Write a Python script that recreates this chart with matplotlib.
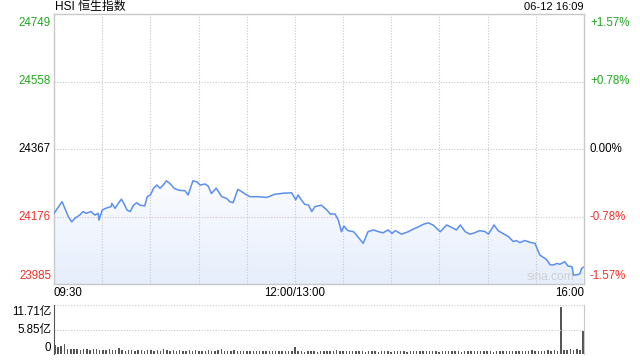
import numpy as np
import matplotlib
matplotlib.use('Agg')
import matplotlib.pyplot as plt
from matplotlib import transforms

plt.rcParams['font.family'] = ['Liberation Sans', 'Noto Sans CJK SC', 'DejaVu Sans']

# Dados (minutos de negociação desde 09:30, 0..330)
prev_close = 24367
y_ticks = [24749, 24558, 24367, 24176, 23985]
pct_ticks = ['+1.57%', '+0.78%', '0.00%', '-0.78%', '-1.57%']
time_ticks = [0, 150, 330]
time_labels = ['09:30', '12:00/13:00', '16:00']

t_min = [0, 5, 9, 11, 13, 16, 18, 20, 23, 25.5, 27.5, 28, 30, 32, 35.5, 36, 38, 40, 42, 43.5,
         45.5, 47.5, 49.5, 51.5, 53.5, 56.5, 58, 60, 61, 62, 64, 66, 68, 70, 72, 75,
         78, 81.5, 83.5, 86.5, 89, 91, 94, 96, 98, 101, 104.5, 107.5, 109.5, 111.5, 114.5,
         119, 122, 127, 132.5, 137.5, 143, 148, 150.5, 152, 154, 156, 158.5, 160.5, 162.5,
         166.5, 170, 172, 175, 177, 179, 180.5, 183, 186.5, 189.5, 192.5, 195.5, 199, 202,
         205, 208, 210.5, 212.5, 216.5, 220.5, 223.5, 227, 230, 233, 236, 240.5, 244.5,
         248.5, 250.5, 253, 256, 259, 262, 265, 268.5, 270.5, 274, 276.5, 279.5, 283, 286,
         288, 290, 293, 296.5, 299.5, 301, 302.5, 304.5, 306.5, 309, 311, 313, 315, 318,
         320, 322.5, 323.5, 326.5, 327.5, 328.5, 329.5]
price = [24185, 24218, 24175, 24161, 24171, 24180, 24190, 24185, 24190, 24180, 24185, 24166,
         24194, 24199, 24204, 24213, 24199, 24213, 24225, 24213, 24194, 24190, 24208, 24215,
         24208, 24206, 24232, 24237, 24246, 24256, 24265, 24256, 24265, 24277, 24270, 24255,
         24250, 24249, 24237, 24277, 24274, 24265, 24268, 24262, 24241, 24256, 24232, 24227,
         24218, 24215, 24253, 24240, 24232, 24232, 24230, 24239, 24242, 24243, 24223, 24237,
         24223, 24211, 24208, 24190, 24204, 24208, 24194, 24183, 24183, 24166, 24133, 24149,
         24136, 24133, 24117, 24100, 24133, 24138, 24133, 24130, 24138, 24128, 24136, 24126,
         24133, 24140, 24147, 24154, 24158, 24152, 24133, 24152, 24143, 24138, 24152, 24133,
         24126, 24130, 24136, 24133, 24126, 24152, 24136, 24128, 24119, 24105, 24108, 24102,
         24108, 24103, 24100, 24083, 24067, 24061, 24055, 24039, 24039, 24043, 24041, 24048,
         24036, 24034, 24010, 24012, 24015, 24029, 24032]

vol_max = 11.71
vol_ticks = [11.71, 5.85, 0]
vol_labels = ['11.71亿', '5.85亿', '0']
vol_t = list(range(0, 331, 2))
vol = [2.2, 1.6, 1.9, 2.4, 1.3, 1.2, 1.1, 1.2, 1.0, 1.1, 1.2, 1.0, 1.1, 1.3, 1.0, 0.9,
       1.0, 1.1, 1.0, 0.9, 1.4, 0.9, 0.8, 1.0, 0.9, 0.8, 1.0, 0.9, 0.8, 0.9, 1.0, 0.8,
       0.9, 0.8, 1.1, 0.9, 0.8, 0.9, 0.8, 1.0, 0.8, 0.7, 0.9, 0.8, 1.0, 0.8, 0.7, 0.8,
       0.9, 0.7, 0.8, 0.9, 1.2, 0.8, 0.7, 0.8, 0.9, 0.7, 0.8, 0.7, 0.8, 0.7, 0.6, 0.7,
       0.8, 0.6, 0.7, 0.6, 0.7, 0.6, 0.6, 0.7, 0.6, 0.6, 0.7, 1.7,
       0.6, 0.7, 0.5, 0.6, 0.7, 0.6, 0.5, 0.7, 0.6, 0.8, 0.6, 0.7, 0.9, 0.6, 0.7, 0.6,
       0.8, 0.7, 0.6, 0.7, 0.6, 0.5, 0.6, 0.7, 0.6, 0.5, 0.6, 0.7, 0.6, 0.5, 0.6, 0.6,
       0.7, 0.6, 0.5, 0.6, 0.7, 0.6, 0.6, 0.7, 0.8, 0.6, 0.7, 0.6, 0.5, 0.6, 0.7, 0.6,
       0.6, 0.7, 0.6, 0.5, 0.6, 0.7, 0.6, 0.7, 0.8, 0.6, 0.6, 0.7, 0.6, 0.5, 0.6, 0.7,
       0.6, 0.7, 0.8, 0.7, 0.6, 0.7, 0.6, 0.7, 0.8, 0.9, 0.7, 0.8, 0.7, 0.8, 0.9, 0.8,
       0.9, 0.8, 11.3, 0.9, 1.0, 1.2, 0.9, 1.3, 1.0, 5.5]

green = '#21a621'
red = '#f0302a'
grid_c = '#c8c8c8'
line_c = '#5a8ff0'

W, H = 640, 360
fig = plt.figure(figsize=(W / 100, H / 100), dpi=100)

def box(l, t, r, b):
    return [l / W, 1 - b / H, (r - l) / W, (b - t) / H]

# *** Gráfico principal ***
ax = fig.add_axes(box(54, 14, 584, 284))
ax.set_xlim(0, 330)
ax.set_ylim(y_ticks[-1], y_ticks[0])
for s in ax.spines.values():
    s.set_color(grid_c)
    s.set_linewidth(1)
ax.set_xticks([])
ax.set_yticks([])

for v in range(30, 330, 30):
    ax.axvline(v, color=grid_c, lw=0.8, ls=(0, (1, 1.5)), zorder=1)
for v in y_ticks[1:-1]:
    ax.axhline(v, color=grid_c, lw=0.8, ls=(0, (1, 1.5)), zorder=1)

# preenchimento em gradiente abaixo da linha
grad = np.linspace(1, 0, 256).reshape(-1, 1)
cmap = matplotlib.colors.LinearSegmentedColormap.from_list('g', ['#fbfcff', '#e6eefc'])
im = ax.imshow(grad, extent=[0, 330, y_ticks[-1], max(price)], aspect='auto',
               cmap=cmap, origin='lower', zorder=0)
poly = ax.fill_between(t_min, price, y_ticks[-1], color='none')
im.set_clip_path(poly.get_paths()[0], transform=ax.transData)
ax.plot(t_min, price, color=line_c, lw=1.1, zorder=3)

ax.text(0.982, 0.004, 'sina.com', transform=ax.transAxes, ha='right', va='bottom',
        fontsize=8.6, color='#d0d0d0', zorder=2)

# rótulos dos eixos
tl = transforms.blended_transform_factory(fig.transFigure, ax.transData)
cols = [green, green, 'black', red, red]
vas = ['top', 'center', 'center', 'center', 'bottom']
for v, p, c, va in zip(y_ticks, pct_ticks, cols, vas):
    off = -3 if va == 'top' else (2 if va == 'bottom' else 0)
    yy = v + off * (y_ticks[0] - y_ticks[-1]) / 270
    fig.text(51 / W, yy, str(v), transform=tl, ha='right', va=va,
             color=c, fontsize=8.3)
    fig.text(590 / W, yy, p, transform=tl, ha='left', va=va,
             color=c, fontsize=8.3)

for t, lab, ha in zip(time_ticks, time_labels, ['left', 'center', 'right']):
    fig.text((54 + t * 530 / 330) / W, 1 - 293 / H, lab, ha=ha, va='center', fontsize=8.3)

fig.text(55 / W, 1 - 7 / H, 'HSI 恒生指数', ha='left', va='center', fontsize=8.6)
fig.text(584 / W, 1 - 7 / H, '06-12 16:09', ha='right', va='center', fontsize=8)

# *** Volume ***
axv = fig.add_axes(box(54, 305, 584, 354))
axv.set_xlim(-0.5, 330.5)
axv.set_ylim(0, vol_max)
axv.bar(vol_t, vol, width=0.9, color='#555555', zorder=2)
axv.axhline(vol_max, color=grid_c, lw=0.8, ls=(0, (1, 1.5)))
axv.axhline(vol_ticks[1], color=grid_c, lw=0.8, ls=(0, (1, 1.5)))
axv.spines['top'].set_visible(False)
axv.spines['bottom'].set_visible(False)
axv.spines['left'].set_color('#555555')
axv.spines['right'].set_color(grid_c)
axv.set_xticks([])
axv.set_yticks([])
for v, lab, yp in zip(vol_ticks, vol_labels, [312, 330, 348]):
    fig.text(51 / W, 1 - yp / H, lab, ha='right', va='center', fontsize=8.3)

fig.savefig('out.png', dpi=100)
